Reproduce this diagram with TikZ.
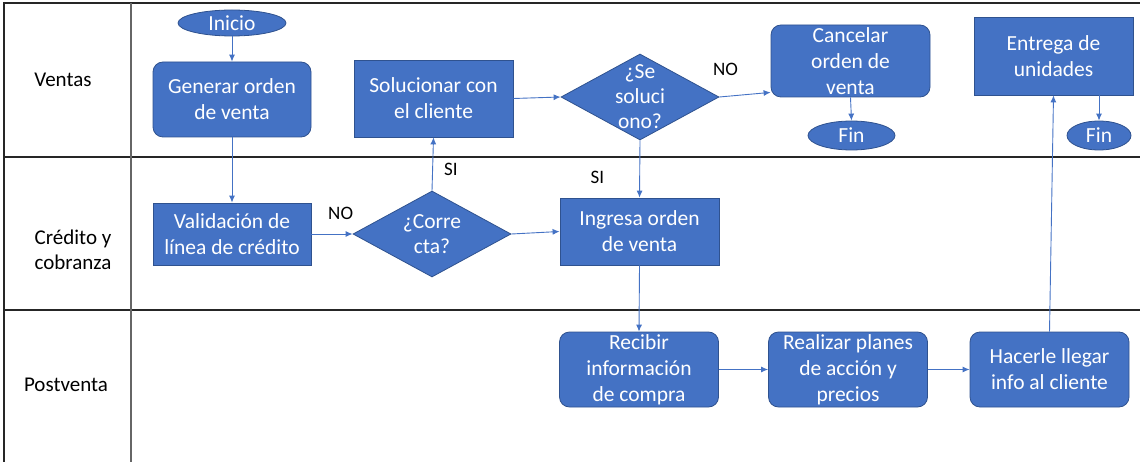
\documentclass[tikz,border=0pt]{standalone}
\usepackage{fontspec}
\setmainfont{Carlito}
\usetikzlibrary{shapes.geometric,arrows.meta}
\definecolor{azul}{HTML}{4472C4}
\definecolor{borde}{HTML}{2F528F}

\begin{document}
\begin{tikzpicture}[x=1pt, y=-1pt,
	caja/.style = {draw=borde, fill=azul, text=white, line width=0.8pt, inner sep=0pt, minimum width=159pt, align=center, font=\fontsize{21.5}{26}\selectfont},
	redonda/.style = {caja, rounded corners=10pt},
	decision/.style = {diamond, draw=borde, fill=azul, line width=0.8pt, inner sep=0pt, minimum width=158pt, minimum height=86pt},
	dtexto/.style = {text=white, align=center, inner sep=0pt, font=\fontsize{21.5}{25}\selectfont},
	terminal/.style = {ellipse, draw=borde, fill=azul, text=white, line width=0.8pt, inner sep=0pt, font=\fontsize{21.5}{26}\selectfont},
	flecha/.style = {azul, line width=0.9pt, -{Latex[length=7pt,width=6pt]}},
	etiqueta/.style = {inner sep=0pt, font=\fontsize{19}{22}\selectfont},
	carril/.style = {align=center, font=\fontsize{21}{25.5}\selectfont}]
		\useasboundingbox (0,0) rectangle (1140,462);
		% Carriles
		\draw[line width=1.3pt, black!85] (4,462) -- (4,3) -- (1140,3);
		\draw[line width=1.3pt, black!85] (4,157) -- (1140,157);
		\draw[line width=1.3pt, black!85] (4,310) -- (1140,310);
		\draw[line width=1.3pt, black!60] (131,3) -- (131,462);
		\node[carril] (ventas) at (63,80) {Ventas};
		\node[carril] (credito) at (73,250) {Crédito y\\cobranza};
		\node[carril] (postventa) at (66,385) {Postventa};
		% Nodos
		\node[terminal, minimum width=108pt, minimum height=26pt] (ini) at (232,23) {Inicio};
		\node[redonda, minimum width=158pt, minimum height=75pt] (gen) at (232,99.5) {Generar orden\\de venta};
		\node[caja, minimum height=77pt] (sol) at (433.5,98.5) {Solucionar con\\el cliente};
		\node[decision, label={[dtexto]center:¿Se\\soluci\\ono?}] (se) at (640,97) {};
		\node[redonda, minimum height=72pt] (can) at (850.5,61) {Cancelar\\orden de\\venta};
		\node[terminal, minimum width=87pt, minimum height=29pt] (fina) at (851.5,135.5) {Fin};
		\node[caja, minimum height=78pt] (ent) at (1053.5,56) {Entrega de\\unidades};
		\node[terminal, minimum width=64pt, minimum height=29pt] (finb) at (1099,135.5) {Fin};
		\node[caja, minimum width=158pt, minimum height=62pt] (val) at (232,234) {Validación de\\línea de crédito};
		\node[decision, label={[dtexto]center:¿Corre\\cta?}] (cor) at (432,234) {};
		\node[caja, minimum height=67pt] (ing) at (639.5,231.5) {Ingresa orden\\de venta};
		\node[redonda, minimum height=75pt] (rec) at (639,369.5) {Recibir\\información\\de compra};
		\node[redonda, minimum height=75pt] (rea) at (848,369.5) {Realizar planes\\de acción y\\precios};
		\node[redonda, minimum height=75pt] (hac) at (1049.5,369.5) {Hacerle llegar\\info al cliente};
		% Flechas
		\draw[flecha] (ini) -- (gen);
		\draw[flecha] (gen) -- (val);
		\draw[flecha] (val) -- node[etiqueta, pos=0.71, above=14pt, black] {NO} (cor.west);
		\draw[flecha] (cor.north) -- node[etiqueta, pos=0.39, right=11pt, black] {SI} (sol.south);
		\draw[flecha] (cor.east) -- (ing.west);
		\draw[flecha] (sol.east) -- (se.west);
		\draw[flecha] (se.east) -- node[etiqueta, pos=0.12, above=20pt, black] {NO} ([yshift=5pt]can.south west);
		\draw[flecha] (se.south) -- node[etiqueta, pos=0.655, left=35pt, black] {SI} (ing.north);
		\draw[flecha] (can.south) -- (fina.north);
		\draw[flecha] (ent.south -| finb) -- (finb.north);
		\draw[flecha] (ing.south) -- (rec.north);
		\draw[flecha] (rec.east) -- (rea.west);
		\draw[flecha] (rea.east) -- (hac.west);
		\draw[flecha] (hac.north) -- (ent.south);
\end{tikzpicture}
\end{document}
